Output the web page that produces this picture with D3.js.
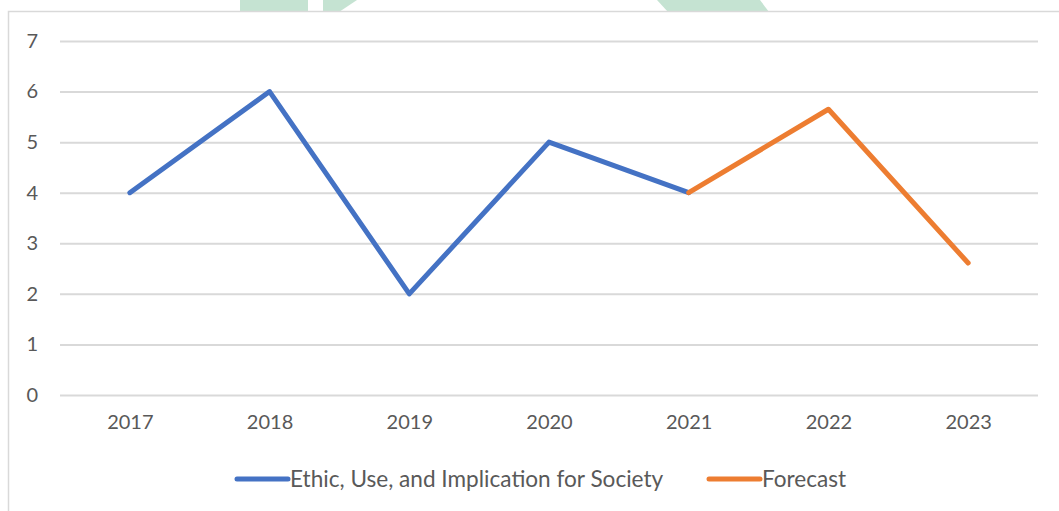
<!DOCTYPE html>
<html>
<head>
<meta charset="utf-8">
<script src="https://cdn.jsdelivr.net/npm/d3@7"></script>
<style>
  html, body { margin: 0; padding: 0; background: #fff; }
  svg { display: block; }
  text { font-family: Lato, "Open Sans", sans-serif; fill: #595959; }
</style>
</head>
<body>
<svg id="chart" width="1059" height="511"></svg>
<script>
// Yearly counts and the forecast continuation
const years = ["2017", "2018", "2019", "2020", "2021", "2022", "2023"];
const actualYears = ["2017", "2018", "2019", "2020", "2021"];
const actualValues = [4, 6, 2, 5, 4];
const forecastYears = ["2021", "2022", "2023"];
const forecastValues = [4, 5.65, 2.61];
const yTicks = [0, 1, 2, 3, 4, 5, 6, 7];
const seriesNames = ["Ethic, Use, and Implication for Society", "Forecast"];
const seriesColors = ["#4472C4", "#ED7D31"];

const svg = d3.select("#chart");

// Decorative green shapes peeking above the chart frame
const wm = svg.append("g").attr("fill", "#c5e3d2");
wm.append("rect").attr("x", 240).attr("y", 0).attr("width", 68).attr("height", 12);
wm.append("polygon").attr("points", "323,0 357,0 339,12 323,12");
wm.append("polygon").attr("points", "657,0 760,0 769,12 668,12");

// Chart frame
svg.append("rect")
  .attr("x", 8.5).attr("y", 11.5)
  .attr("width", 1100).attr("height", 600)
  .attr("fill", "#fff")
  .attr("stroke", "#d9d9d9")
  .attr("stroke-width", 1.5);

const plot = { left: 60, right: 1038, top: 41, bottom: 395 };

const x = d3.scalePoint()
  .domain(years)
  .range([plot.left, plot.right])
  .padding(0.5);

const y = d3.scaleLinear()
  .domain([0, 7])
  .range([plot.bottom, plot.top]);

// Horizontal gridlines with value labels
const yAxis = d3.axisLeft(y)
  .tickValues(yTicks)
  .tickSize(-(plot.right - plot.left))
  .tickPadding(22)
  .tickFormat(d3.format("d"));

const gy = svg.append("g")
  .attr("transform", `translate(${plot.left},0)`)
  .call(yAxis);
gy.select(".domain").remove();
gy.selectAll(".tick line").attr("stroke", "#d9d9d9").attr("stroke-width", 2);
gy.selectAll(".tick text")
  .attr("font-size", 20)
  .attr("fill", "#595959")
  .style("font-family", "Lato, sans-serif");

// Year labels
const xAxis = d3.axisBottom(x).tickSize(0).tickPadding(20);
const gx = svg.append("g")
  .attr("transform", `translate(0,${plot.bottom})`)
  .call(xAxis);
gx.select(".domain").remove();
gx.selectAll(".tick text")
  .attr("font-size", 20)
  .attr("fill", "#595959")
  .style("font-family", "Lato, sans-serif");

// Lines
const line = d3.line()
  .x(d => x(d[0]))
  .y(d => y(d[1]));

svg.append("path")
  .datum(actualYears.map((yr, i) => [yr, actualValues[i]]))
  .attr("d", line)
  .attr("fill", "none")
  .attr("stroke", seriesColors[0])
  .attr("stroke-width", 5)
  .attr("stroke-linecap", "round")
  .attr("stroke-linejoin", "round");

svg.append("path")
  .datum(forecastYears.map((yr, i) => [yr, forecastValues[i]]))
  .attr("d", line)
  .attr("fill", "none")
  .attr("stroke", seriesColors[1])
  .attr("stroke-width", 5)
  .attr("stroke-linecap", "round")
  .attr("stroke-linejoin", "round");

// Legend
const legendY = 479;
const legendItems = [
  { x: 237, name: seriesNames[0], color: seriesColors[0] },
  { x: 709, name: seriesNames[1], color: seriesColors[1] }
];
const lg = svg.append("g");
legendItems.forEach(item => {
  lg.append("line")
    .attr("x1", item.x).attr("x2", item.x + 51)
    .attr("y1", legendY).attr("y2", legendY)
    .attr("stroke", item.color)
    .attr("stroke-width", 5)
    .attr("stroke-linecap", "round");
  lg.append("text")
    .attr("x", item.x + 53)
    .attr("y", legendY + 8)
    .attr("font-size", 22.6)
    .text(item.name);
});
</script>
</body>
</html>
